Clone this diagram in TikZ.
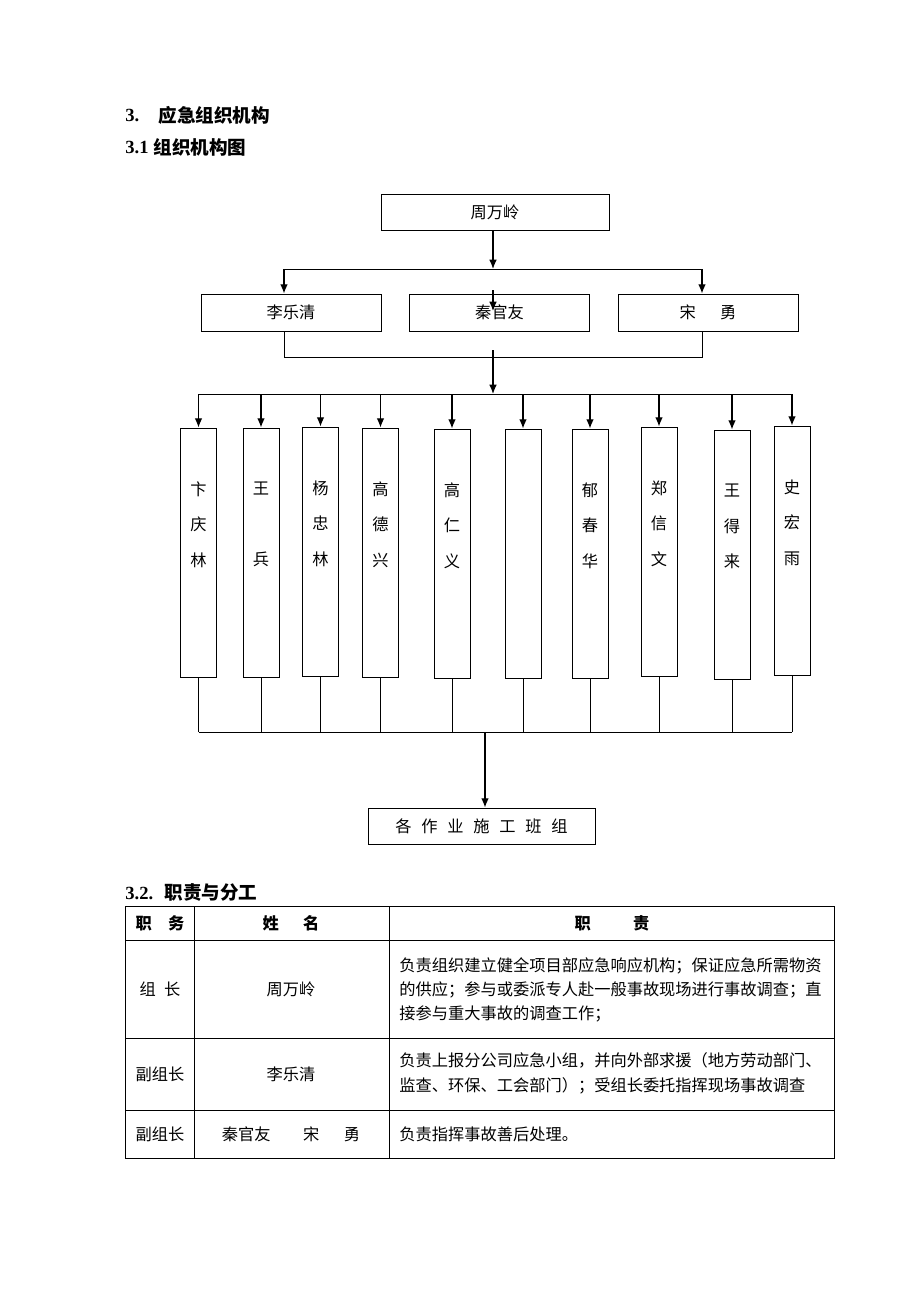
\documentclass[tikz,border=0pt]{standalone}
\usepackage{fontspec}
\setmainfont{Noto Sans CJK SC}
\newfontfamily\lat{Liberation Serif}
\newlength\pxu
\setlength\pxu{0.6467pt}
\usetikzlibrary{arrows.meta}

\begin{document}
\begin{tikzpicture}[x=0.6467pt, y=-0.6467pt, line width=0.6pt, >={Latex[length=6pt,width=5pt]},
  box/.style={draw, inner sep=0pt, font=\fontsize{10.5}{12}\selectfont},
  rowbox/.style={box, minimum width=180\pxu, minimum height=37\pxu},
  colbox/.style={draw, inner sep=0pt, minimum width=36\pxu, minimum height=249\pxu},
  coltext/.style={inner sep=0pt, align=center, font=\fontsize{10.5}{23}\selectfont},
  headtext/.style={inner sep=0pt, anchor=west, font=\fontsize{12}{14}\selectfont\bfseries},
  cell/.style={inner sep=0pt, font=\fontsize{10.5}{12}\selectfont},
  arr/.style={->, line width=0.9pt}]

\useasboundingbox (0,0) rectangle (920,1302);

\node[headtext] (n3) at (125,115) {\lat 3.};
\node[headtext] (t3) at (158,115) {应急组织机构};
\node[headtext] (n31) at (125,147) {\lat 3.1};
\node[headtext] (t31) at (153,147) {组织机构图};

\node[box, minimum width=228\pxu, minimum height=36\pxu] (0) at (495,212) {周万岭};
\node[rowbox] (1) at (291,312.5) {李乐清};
\node[rowbox] (2) at (499.5,312.5) {秦官友};
\node[rowbox] (3) at (708,312.5) {宋\hspace{1.5em}勇};

\coordinate (s0) at (493,269);
\coordinate (s1) at (284,269);
\coordinate (s3) at (702,269);
\coordinate (m0) at (493,290);
\coordinate (m1) at (493,311);
\coordinate (j0) at (493,350);
\coordinate (r0) at (493,394);
\coordinate (b0) at (485,732);

\draw[arr] (0.south -| s0) -- (s0);
\draw (s1) -- (s3);
\draw[arr] (s1) -- (s1 |- 1.north);
\draw[arr] (s3) -- (s3 |- 3.north);
\draw[arr] (m0) -- (m1);
\draw (s1 |- 1.south) -- ++(0,26) -| (s3 |- 3.south);
\draw[arr] (j0) -- (r0);

\foreach \n/\x/\y/\t in {1/198.5/552.5/{卞\\庆\\林}, 2/261/552.5/{王\\~\\兵}, 3/320.5/551.5/{杨\\忠\\林},
    4/380.5/552.5/{高\\德\\兴}, 5/452/553.5/{高\\仁\\义}, 6/523/553.5/{~}, 7/590/553.5/{郁\\春\\华},
    8/659/551.5/{郑\\信\\文}, 9/732/554.5/{王\\得\\来}, 10/792/550.5/{史\\宏\\雨}}{
  \node[colbox] (c\n) at (\x,\y) {};
  \node[coltext] (t\n) at (\x,\y-28) {\t};
  \draw[arr] (c\n.north |- r0) -- (c\n.north);
  \draw (c\n.south) -- (c\n.south |- b0);
}
\draw (c1.north |- r0) -- (c10.north |- r0);
\draw (c1.south |- b0) -- (c10.south |- b0);

\node[box, minimum width=227\pxu, minimum height=36\pxu] (g) at (481.5,826)
  {各\hspace{0.6em}作\hspace{0.6em}业\hspace{0.6em}施\hspace{0.6em}工\hspace{0.6em}班\hspace{0.6em}组};
\draw[arr] (b0) -- (b0 |- g.north);

\node[headtext] (n32) at (125,893) {\lat 3.2.};
\node[headtext] (t32) at (164,893) {职责与分工};

\draw (125,906) rectangle (834,1158);
\draw (125,940) -- (834,940);
\draw (125,1038) -- (834,1038);
\draw (125,1110) -- (834,1110);
\draw (194,906) -- (194,1158);
\draw (389,906) -- (389,1158);

\node[cell, font=\fontsize{10.5}{12}\selectfont\bfseries] (h1) at (160,923) {职\hspace{1em}务};
\node[cell, font=\fontsize{10.5}{12}\selectfont\bfseries] (h2) at (291,923) {姓\hspace{1.5em}名};
\node[cell, font=\fontsize{10.5}{12}\selectfont\bfseries] (h3) at (612,923) {职\hspace{2.6em}责};

\node[cell] (p1) at (160,989) {组\hspace{0.5em}长};
\node[cell] (q1) at (291,989) {周万岭};
\node[cell, anchor=west, align=left, font=\fontsize{10.5}{15.6}\selectfont] (d1) at (399,990)
  {负责组织建立健全项目部应急响应机构；保证应急所需物资\\的供应；参与或委派专人赴一般事故现场进行事故调查；直\\接参与重大事故的调查工作；};

\node[cell] (p2) at (160,1074) {副组长};
\node[cell] (q2) at (291,1074) {李乐清};
\node[cell, anchor=west, align=left, font=\fontsize{10.5}{16}\selectfont] (d2) at (399,1073.5)
  {负责上报分公司应急小组，并向外部求援（地方劳动部门、\\监查、环保、工会部门）；受组长委托指挥现场事故调查};

\node[cell] (p3) at (160,1134) {副组长};
\node[cell] (q3) at (291,1134) {秦官友\hspace{2em}宋\hspace{1.5em}勇};
\node[cell, anchor=west] (d3) at (399,1134) {负责指挥事故善后处理。};

\end{tikzpicture}
\end{document}
